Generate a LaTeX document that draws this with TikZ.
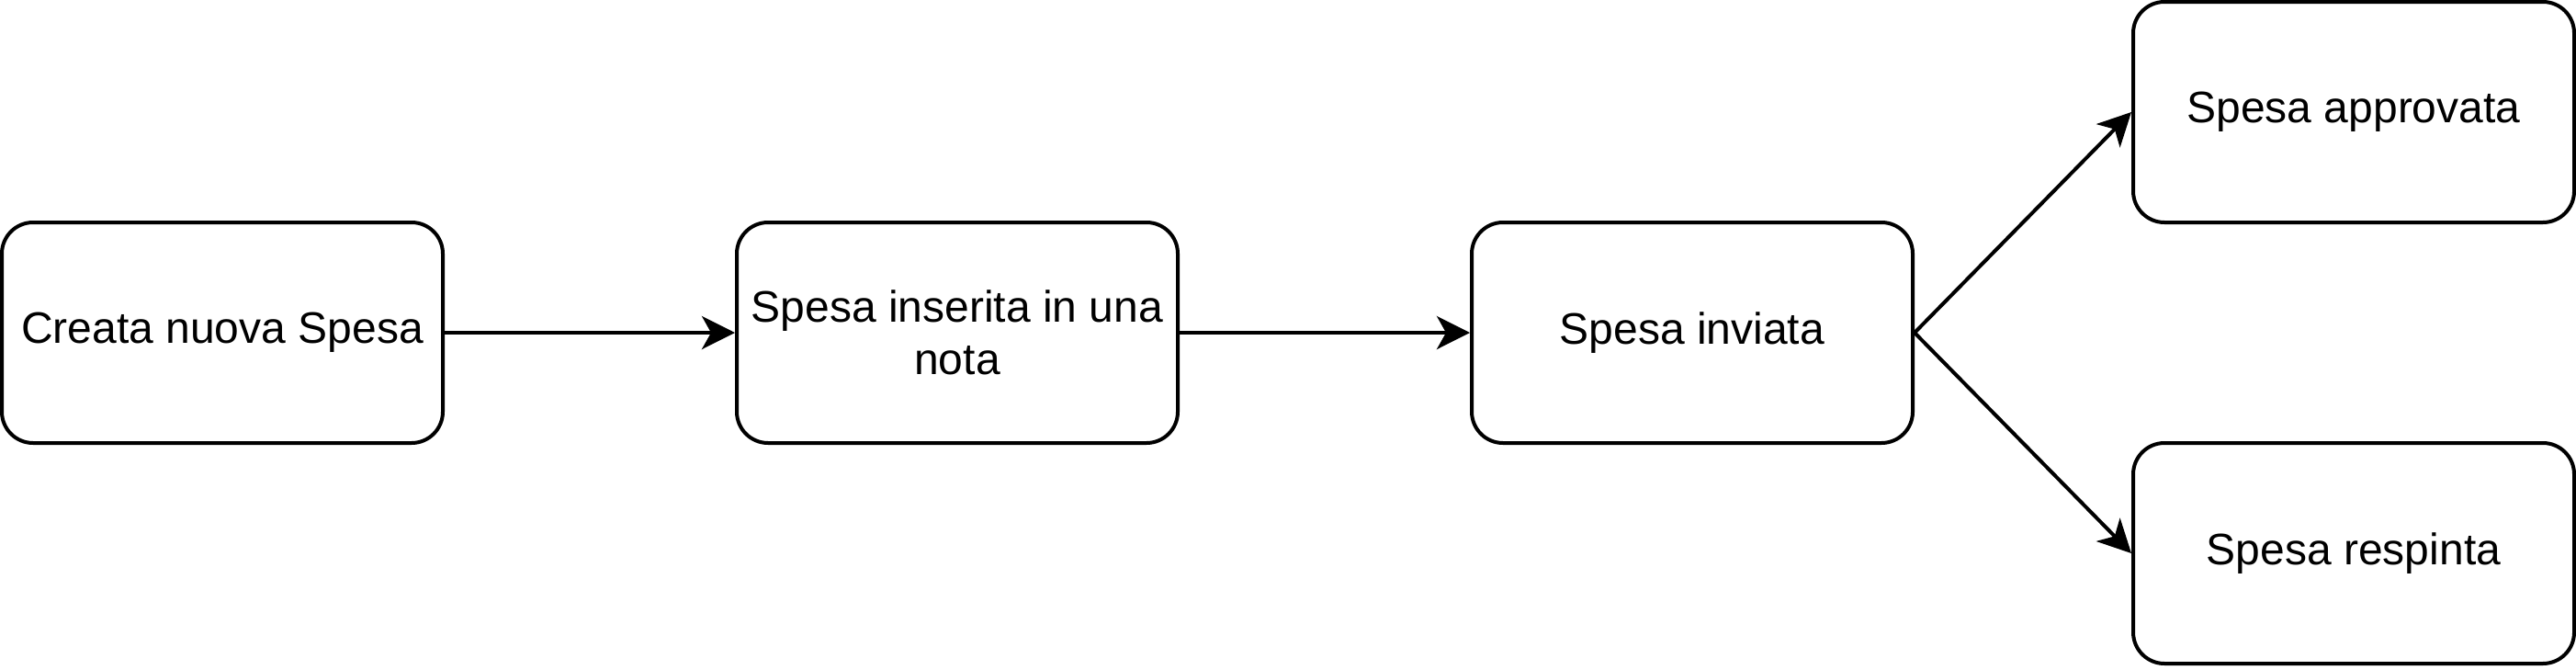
\documentclass[tikz,border=0pt]{standalone}
\usepackage{fontspec}
\setmainfont{Liberation Sans}
\usetikzlibrary{arrows.meta}
\begin{document}
\begin{tikzpicture}[x=1pt,y=-1pt,
  state/.style={draw=black, line width=1pt, rounded corners=8.5pt, fill=white,
    minimum width=120pt, minimum height=60pt, inner sep=0pt, align=center,
    font=\fontsize{12pt}{14.4pt}\selectfont},
  conn/.style={line width=1pt, -{Stealth[length=9pt,width=9pt,inset=2.5pt]}}]
\useasboundingbox (0,0) rectangle (701,182);
\node[state] (a) at (60.5,90.5) {Creata nuova Spesa};
\node[state] (b) at (260.5,90.5) {Spesa inserita in una\\nota};
\node[state] (c) at (460.5,90.5) {Spesa inviata};
\node[state] (d) at (640.5,30.5) {Spesa approvata};
\node[state] (e) at (640.5,150.5) {Spesa respinta};
\draw[conn] (a.east) -- (b.west);
\draw[conn] (b.east) -- (c.west);
\draw[conn] (c.east) -- (d.west);
\draw[conn] (c.east) -- (e.west);
\end{tikzpicture}
\end{document}
